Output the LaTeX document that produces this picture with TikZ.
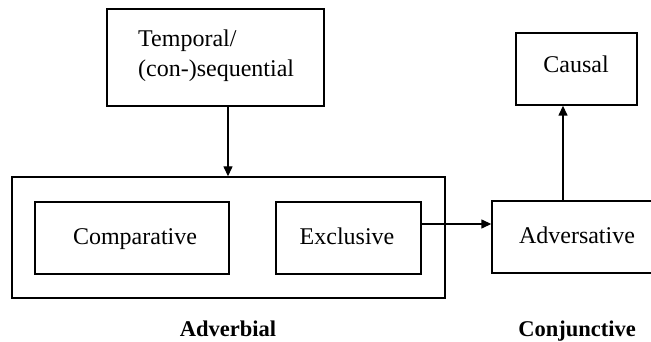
\documentclass[tikz,border=0pt]{standalone}
\usepackage{fontspec}
\setmainfont{Liberation Serif}
\usetikzlibrary{arrows.meta}
\begin{document}
\begin{tikzpicture}[x=1pt,y=-1pt,
  box/.style={draw,line width=1.4pt,inner sep=0pt},
  txt/.style={font=\fontsize{24}{30}\selectfont,text=black,inner sep=0pt,anchor=base},
  arr/.style={line width=1.4pt,-{Triangle[length=10pt,width=9pt]}},
  lab/.style={font=\fontsize{22.5}{24}\selectfont\bfseries,text=black,inner sep=0pt,anchor=base}]
\useasboundingbox (0,0) rectangle (651,342);
\node[box,minimum width=217pt,minimum height=97pt] (temp) at (215.5,57.5) {};
\node[txt,anchor=base west,align=left] (tempt) at (138,77) {Temporal/\\(con-)sequential};
\node[box,minimum width=433pt,minimum height=121pt] (adv) at (228.5,237.5) {};
\node[box,minimum width=194pt,minimum height=72pt] (comp) at (132,238) {};
\node[txt] (compt) at (135,244) {Comparative};
\node[box,minimum width=145pt,minimum height=72pt] (excl) at (348.5,238) {};
\node[txt] (exclt) at (347,244) {Exclusive};
\node[box,minimum width=162pt,minimum height=72pt] (advs) at (573,237) {};
\node[txt] (advst) at (577,243) {Adversative};
\node[box,minimum width=121pt,minimum height=72pt] (caus) at (576.5,69) {};
\node[txt] (caust) at (576,73) {Causal};
\node[lab] (l1) at (228,336) {Adverbial};
\node[lab] (l2) at (577,336) {Conjunctive};
\coordinate (x1) at (228,0);
\coordinate (y2) at (0,224);
\coordinate (x3) at (563,0);
\draw[arr] (temp.south -| x1) -- (adv.north -| x1);
\draw[arr] (excl.east |- y2) -- (advs.west |- y2);
\draw[arr] (advs.north -| x3) -- (caus.south -| x3);
\end{tikzpicture}
\end{document}
